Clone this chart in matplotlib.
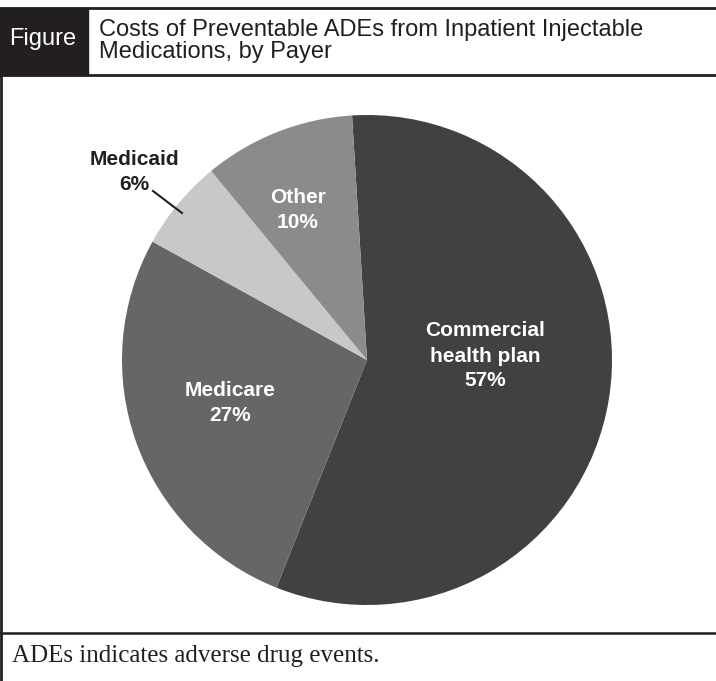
import matplotlib
matplotlib.use('Agg')
import matplotlib.pyplot as plt
from matplotlib.patches import Rectangle

# data
payers = ['Commercial\nhealth plan', 'Medicare', 'Medicaid', 'Other']
shares = [57, 27, 6, 10]
colors = ['#414141', '#666666', '#c8c8c9', '#8b8b8d']

title = 'Costs of Preventable ADEs from Inpatient Injectable\nMedications, by Payer'
footnote = 'ADEs indicates adverse drug events.'

W, H = 716, 681
sans = ['Liberation Sans', 'DejaVu Sans']
ink = '#231f20'

fig = plt.figure(figsize=(W / 100, H / 100), dpi=100)

# overlay in pixel coordinates for the frame and text
frame = fig.add_axes([0, 0, 1, 1])
frame.set_xlim(0, W)
frame.set_ylim(H, 0)
frame.axis('off')

frame.plot([0, W], [8, 8], color=ink, lw=2)
frame.plot([0, W], [75, 75], color=ink, lw=2)
frame.plot([1, 1], [75, H], color=ink, lw=2)
frame.plot([1, W], [633, 633], color=ink, lw=1.8)
frame.add_patch(Rectangle((0, 8), 88, 67, color=ink))
frame.text(43, 39, 'Figure', color='white', fontsize=17, family=sans,
           ha='center', va='center')
frame.text(99, 41, title, color=ink, fontsize=17, family=sans,
           ha='left', va='center', linespacing=1.0)
frame.text(12, 656, footnote, color=ink, fontsize=18,
           family=['Liberation Serif', 'DejaVu Serif'], ha='left', va='center')

# pie: centre (367, 360) px, radius 245 px
cx, cy, r = 367, 360, 245
ax = fig.add_axes([(cx - r) / W, (H - cy - r) / H, 2 * r / W, 2 * r / H])
wedges, _ = ax.pie(shares, colors=colors, startangle=93.5, counterclock=False,
                   radius=1, wedgeprops=dict(linewidth=0))
ax.set_xlim(-1, 1)
ax.set_ylim(-1, 1)
ax.set_aspect('equal')
ax.axis('off')

lab = dict(fontsize=15, family=sans, fontweight='bold', ha='center',
           va='center', linespacing=1.4)
ax.text(118 / r, 4 / r, payers[0] + '\n%d%%' % shares[0], color='white', **lab)
ax.text(-137 / r, -43 / r, payers[1] + '\n%d%%' % shares[1], color='white', **lab)
ax.text(-69 / r, 150 / r, payers[3] + '\n%d%%' % shares[3], color='white', **lab)
ax.text(-233 / r, 188 / r, payers[2] + '\n%d%%' % shares[2], color=ink, **lab)
# leader line from the Medicaid label into its slice
ax.plot([-214 / r, -185 / r], [169 / r, 147 / r], color=ink, lw=1.5)

fig.savefig('out.png', dpi=100)
